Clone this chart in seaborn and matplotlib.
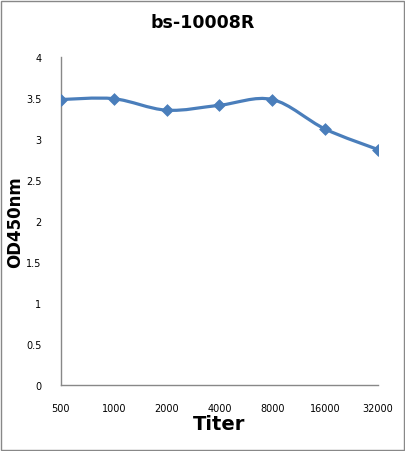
import numpy as np
import pandas as pd
import matplotlib
matplotlib.use("Agg")
import matplotlib.pyplot as plt
from matplotlib.path import Path
from matplotlib.patches import PathPatch, Rectangle
import seaborn as sns

#data
titers = ["500", "1000", "2000", "4000", "8000", "16000", "32000"]
od450 = [3.48, 3.49, 3.35, 3.41, 3.48, 3.12, 2.87]

df = pd.DataFrame({"pos": range(len(titers)), "od": od450})

sns.set_style("white")
plt.rcParams["font.family"] = ["DejaVu Sans"]
plt.rcParams["text.color"] = "black"
plt.rcParams["xtick.color"] = "black"
plt.rcParams["ytick.color"] = "black"
plt.rcParams["axes.labelcolor"] = "black"
color = "#4A7EBB"

fig = plt.figure(figsize=(4.06, 4.52), dpi=100)
ax = fig.add_axes([0.150, 0.146, 0.781, 0.726])

#smooth curve through the points (excel style bezier)
x = df["pos"].to_numpy(float)
y = df["od"].to_numpy(float)
verts = [(x[0], y[0])]
codes = [Path.MOVETO]
for i in range(len(x) - 1):
    x0, y0 = (x[i - 1], y[i - 1]) if i > 0 else (x[i], y[i])
    x3, y3 = (x[i + 2], y[i + 2]) if i + 2 < len(x) else (x[i + 1], y[i + 1])
    c1 = (x[i] + (x[i + 1] - x0) / 6, y[i] + (y[i + 1] - y0) / 6)
    c2 = (x[i + 1] - (x3 - x[i]) / 6, y[i + 1] - (y3 - y[i]) / 6)
    verts += [c1, c2, (x[i + 1], y[i + 1])]
    codes += [Path.CURVE4] * 3
ax.add_patch(PathPatch(Path(verts, codes), fill=False, edgecolor=color, lw=2.3, zorder=2))

sns.scatterplot(data=df, x="pos", y="od", marker="D", s=36, color=color,
                edgecolor=color, linewidth=0.5, ax=ax, zorder=3)

ax.set_xlim(0, 6)
ax.set_ylim(0, 4)
ax.set_xticks(range(len(titers)))
ax.set_xticklabels(titers, fontsize=7)
ax.set_yticks(np.arange(0, 4.01, 0.5))
ax.set_yticklabels(["0", "0.5", "1", "1.5", "2", "2.5", "3", "3.5", "4"], fontsize=7)
ax.tick_params(axis="x", length=0, pad=13)
ax.tick_params(axis="y", length=0, pad=14)

for s in ["top", "right"]:
    ax.spines[s].set_visible(False)
for s in ["left", "bottom"]:
    ax.spines[s].set_color("#888888")
    ax.spines[s].set_linewidth(1)

ax.set_xlabel("Titer", fontsize=14, fontweight="bold", labelpad=1)
ax.set_ylabel("OD450nm", fontsize=12, fontweight="bold")
ax.yaxis.set_label_coords(-0.115, 0.5)
fig.suptitle("bs-10008R", fontsize=12.5, fontweight="bold", y=0.968)

fig.patches.append(Rectangle((0.002, 0.002), 0.994, 0.994, transform=fig.transFigure,
                             fill=False, edgecolor="#888888", lw=1))

plt.savefig("out.png", dpi=100)
